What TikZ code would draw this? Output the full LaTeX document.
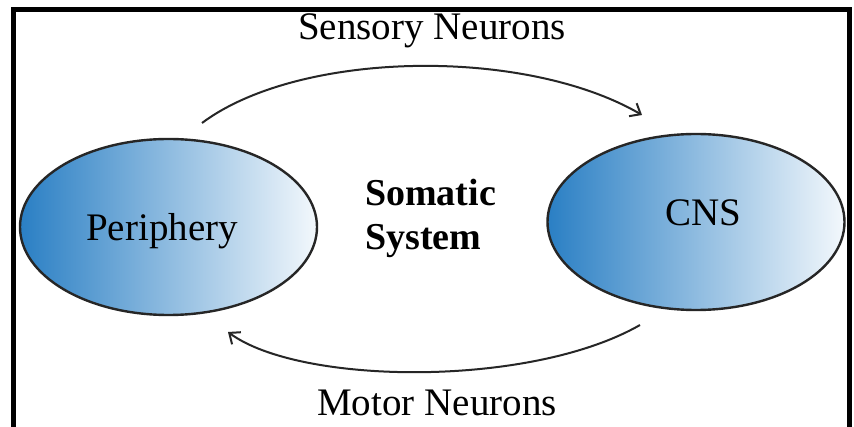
\documentclass[tikz,border=0pt]{standalone}
\usepackage{fontspec}
\setmainfont{Liberation Serif}[BoldFont={Liberation Serif Bold}]
\usetikzlibrary{shapes.geometric,arrows.meta}
\definecolor{blobdark}{HTML}{2A7FC4}
\definecolor{bloblight}{HTML}{F3F8FC}
\tikzset{
  blob/.style={ellipse, draw=black!85, line width=2.4pt, inner sep=0pt,
    minimum width=297pt, minimum height=176pt,
    left color=blobdark, right color=bloblight},
  lbl/.style={inner sep=0pt, font=\fontsize{39}{44}\selectfont},
  flow/.style={line width=2pt, draw=black!85,
    -{Straight Barb[length=9pt,width=15pt,line width=2pt]}},
  frame/.style={line width=5pt, draw=black}
}
\begin{document}
\begin{tikzpicture}[x=1pt,y=1pt]
\useasboundingbox (0,0) rectangle (854,-427);
\fill[white] (0,0) rectangle (854,-427);
\draw[frame] (13.5,-440) -- (13.5,-9.5) -- (849.5,-9.5) -- (849.5,-440);
% ellipses
\node[blob] (per) at (168.5,-227) {};
\node[blob] (cns) at (696,-222) {};
\node[lbl] (perl) at (162,-231) {Periphery};
\node[lbl] (cnsl) at (703,-213) {CNS};
% centre label
\node[inner sep=0pt, anchor=base west, font=\fontsize{38}{44}\selectfont\bfseries] (som) at (365,-206)
  {\begin{tabular}[t]{@{}l@{}}Somatic\\System\end{tabular}};
% connectors
\coordinate (s1) at (202,-123);
\coordinate (e1) at (642,-115);
\coordinate (s2) at (640,-325);
\coordinate (e2) at (228,-332);
\draw[flow] (s1) .. controls (300,-50) and (525,-47) .. (e1);
\draw[flow] (s2) .. controls (530,-388) and (300,-385) .. (e2);
% arrow labels
\node[lbl, anchor=base] (sens) at (432,-40) {Sensory Neurons};
\node[lbl, anchor=base] (mot) at (437,-415) {Motor Neurons};
\end{tikzpicture}
\end{document}
